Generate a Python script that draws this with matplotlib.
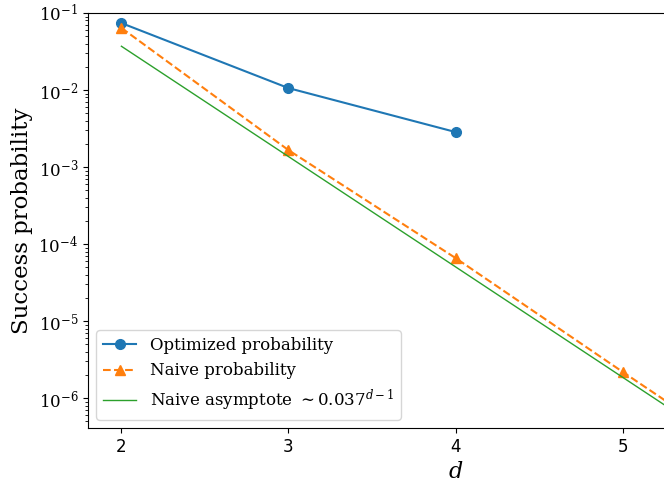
import matplotlib
matplotlib.use("Agg")
import matplotlib.pyplot as plt

plt.rcParams['font.family'] = ['DejaVu Serif']
plt.rcParams['mathtext.fontset'] = 'dejavuserif'

d_opt = [2, 3, 4]
p_opt = [0.074, 0.0106, 0.00285]

d_naive = [2, 3, 4, 5, 6]
p_naive = [0.064, 1.66e-3, 6.6e-5, 2.2e-6, 7.6e-8]

d_asym = [2, 3, 4, 5, 6]
p_asym = [0.037, 1.37e-3, 5.07e-5, 1.87e-6, 6.9e-8]

xticks = [2, 3, 4, 5]

fig = plt.figure(figsize=(6.64, 4.86), dpi=100)
# axes extends past the right edge (original image was cropped)
ax = fig.add_axes([88 / 664, 58 / 486, 735 / 664, 415 / 486])

ax.plot(d_opt, p_opt, marker='o', markersize=7, color='tab:blue', label='Optimized probability')
ax.plot(d_naive, p_naive, marker='^', markersize=7, linestyle='--', color='tab:orange', label='Naive probability')
ax.plot(d_asym, p_asym, color='tab:green', linewidth=1, label=r'Naive asymptote $\sim 0.037^{d-1}$')

ax.set_yscale('log')
ax.set_xlim(1.8, 6.2)
ax.set_ylim(4.1e-7, 1e-1)
ax.set_xticks(xticks)
ax.set_xticklabels([str(t) for t in xticks], family='DejaVu Sans', fontsize=12)
ax.tick_params(axis='y', labelsize=12)

ax.set_xlabel('$d$', fontsize=16)
ax.set_ylabel('Success probability', fontsize=16.5)
ax.legend(loc='lower left', fontsize=12)

fig.savefig('out.png', dpi=100)
